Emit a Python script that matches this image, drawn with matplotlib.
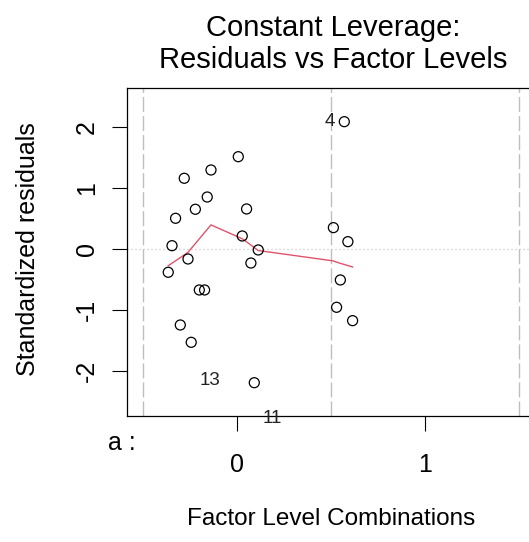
import numpy as np
import matplotlib.pyplot as plt

plt.rcParams['font.family'] = ['Liberation Sans', 'DejaVu Sans']
plt.rcParams['lines.scale_dashes'] = False

# standardized residuals plotted against factor level position
fac_x = [-0.365, -0.345, -0.326, -0.301, -0.280, -0.260, -0.243, -0.221,
         -0.200, -0.172, -0.158, -0.138, 0.007, 0.028, 0.051, 0.074,
         0.092, 0.113, 0.512, 0.570, 0.589, 0.549, 0.529, 0.614]
std_res = [-0.377, 0.059, 0.508, -1.241, 1.164, -0.159, -1.525, 0.656,
           -0.667, -0.667, 0.857, 1.300, 1.518, 0.218, 0.661, -0.225,
           -2.187, -0.011, 0.355, 2.092, 0.125, -0.503, -0.951, -1.170]

# smoother through the residuals
smooth_x = [-0.365, -0.260, -0.138, 0.030, 0.113, 0.510, 0.538, 0.614]
smooth_y = [-0.270, -0.050, 0.400, 0.170, -0.020, -0.190, -0.220, -0.290]

# flagged observations
id_labels = ['4', '13', '11']
id_x = [0.523, -0.196, 0.138]
id_y = [2.092, -2.143, -2.780]
id_ha = ['right', 'left', 'left']

level_names = ['0', '1']
level_pos = [0, 1]
level_breaks = [-0.5, 0.5, 1.5]

fig = plt.figure(figsize=(5.29, 5.42), dpi=100)
ax = fig.add_axes([127 / 529, 126 / 542, 407.5 / 529, 328 / 542])

for b in level_breaks:
    ax.axvline(b, color='#bebebe', lw=1, linestyle=(0, (10.8, 2.9)), zorder=1)
ax.axhline(0, color='#bebebe', lw=1, linestyle=(0, (0.72, 2.16)), zorder=1)

ax.plot(smooth_x, smooth_y, color='#df536b', lw=1, zorder=2)
ax.scatter(fac_x, std_res, s=52, facecolors='none', edgecolors='black',
           linewidths=0.9, zorder=3)

for lab, x, y, ha in zip(id_labels, id_x, id_y, id_ha):
    ax.text(x, y, lab, fontsize=13.5, ha=ha, va='center', clip_on=False,
            color='#222222')

ax.set_xlim(-0.584, 1.58)
ax.set_ylim(-2.733, 2.644)
ax.set_xticks(level_pos)
ax.set_xticklabels(level_names)
ax.set_yticks([-2, -1, 0, 1, 2])
ax.set_yticklabels(['-2', '-1', '0', '1', '2'], rotation=90, va='center')
ax.tick_params(axis='x', length=11, width=0.8, labelsize=18, pad=16)
ax.tick_params(axis='y', length=11, width=0.8, labelsize=18, pad=9)
for s in ax.spines.values():
    s.set_linewidth(0.9)
ax.spines['right'].set_visible(False)

ax.text(-0.047, -0.104, 'a :', transform=ax.transAxes, fontsize=18,
        ha='left', va='baseline', clip_on=False)

ax.set_xlabel('Factor Level Combinations', fontsize=17.5)
ax.xaxis.set_label_coords(0.5, -0.279)
ax.xaxis.label.set_va('top')
ax.set_ylabel('Standardized residuals', fontsize=18)
ax.yaxis.set_label_coords(-0.2135, 0.51)

fig.text(333 / 529, 1 - 36 / 542, 'Constant Leverage:', fontsize=21,
         ha='center', va='baseline')
fig.text(333 / 529, 1 - 68 / 542, 'Residuals vs Factor Levels', fontsize=21,
         ha='center', va='baseline')

fig.savefig('out.png', dpi=100)
